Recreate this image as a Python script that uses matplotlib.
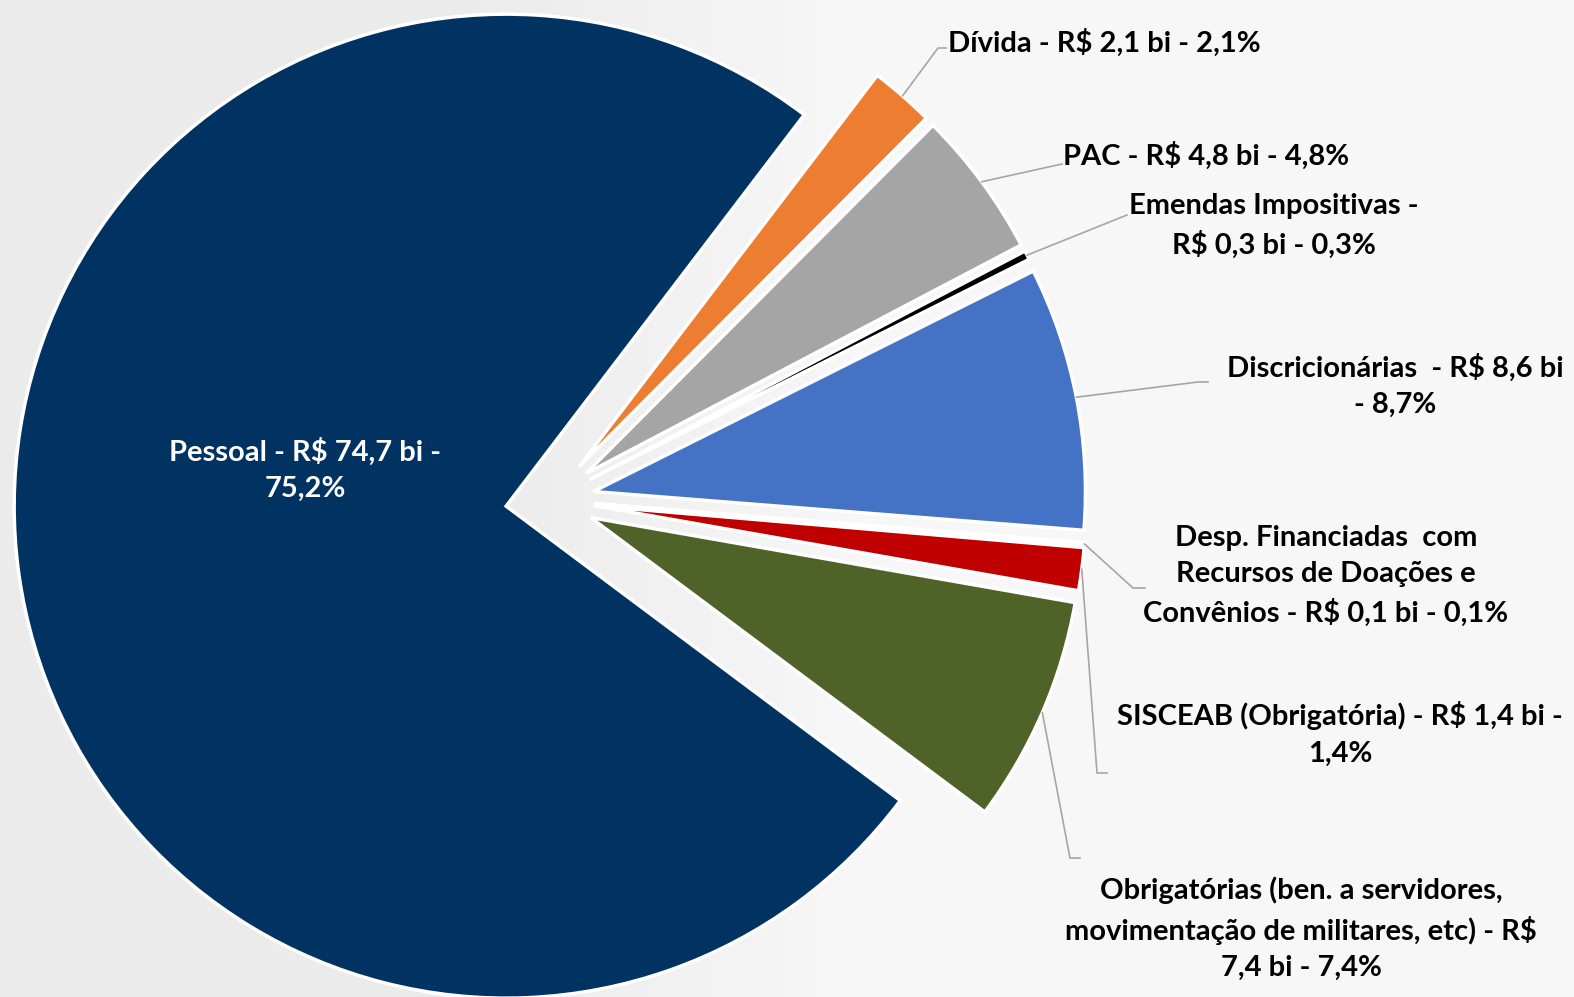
import matplotlib.pyplot as plt
import numpy as np
from matplotlib.colors import LinearSegmentedColormap

# dados (R$ bi), na ordem do gráfico (sentido horário a partir do topo)
categorias = ["Dívida", "PAC", "Emendas Impositivas", "Discricionárias",
              "Desp. Financiadas com Recursos de Doações e Convênios",
              "SISCEAB (Obrigatória)", "Obrigatórias", "Pessoal"]
valores = [2.1, 4.8, 0.3, 8.6, 0.1, 1.4, 7.4, 74.7]
rotulos = [
    "Dívida - R$ 2,1 bi - 2,1%",
    "PAC - R$ 4,8 bi - 4,8%",
    "Emendas Impositivas -\nR$ 0,3 bi - 0,3%",
    "Discricionárias  - R$ 8,6 bi\n- 8,7%",
    "Desp. Financiadas  com\nRecursos de Doações e\nConvênios - R$ 0,1 bi - 0,1%",
    "SISCEAB (Obrigatória) - R$ 1,4 bi -\n1,4%",
    "Obrigatórias (ben. a servidores,\nmovimentação de militares, etc) - R$\n7,4 bi - 7,4%",
    "Pessoal - R$ 74,7 bi -\n75,2%",
]
cores = ["#ED7D31", "#A5A5A5", "#000000", "#4472C4", "#7F7F7F",
         "#C00000", "#4F6228", "#003262"]

# layout em pixels (centro do gráfico e raio)
CX, CY, RPX = 550, 500, 492
W, H = 1574, 997


def px(x, y):
    return (x - CX) / RPX, (CY - y) / RPX


fig = plt.figure(figsize=(W / 100, H / 100), dpi=100)
fig.patch.set_facecolor("#ececec")
ax = fig.add_axes([0, 0, 1, 1])

xmin, ymax = px(0, 0)
xmax, ymin = px(W, H)

# fundo levemente mais claro à direita
xs = np.linspace(0, W, 400)
grad = np.clip((xs - 450) / 400, 0, 1)[None, :]
cmap = LinearSegmentedColormap.from_list("bg", ["#ebebeb", "#f7f7f7"])
ax.imshow(grad, extent=[xmin, xmax, ymin, ymax], aspect="auto", cmap=cmap,
          zorder=0, vmin=0, vmax=1)

wedges, _ = ax.pie(valores, colors=cores, startangle=52.7, counterclock=False,
                   explode=[0.09] * len(valores), radius=1,
                   wedgeprops=dict(edgecolor="white", linewidth=2.5))
for w in wedges:
    w.set_zorder(2)

ax.set_xlim(xmin, xmax)
ax.set_ylim(ymin, ymax)
ax.set_aspect("auto")
ax.axis("off")

fonte = dict(family=["Lato", "DejaVu Sans"], fontweight="bold", fontsize=21,
             linespacing=1.48)

# posição dos rótulos (px) e cotovelos das linhas guia (px)
pos_rotulos = [(948, 43, "left"), (1063, 156, "left"), (1274, 226, "center"),
               (1395, 386, "center"), (1326, 576, "center"),
               (1340, 734, "center"), (1301, 929, "center"), (305, 470, "center")]
guias = [
    [(938, 48), (946, 48)],
    [(1062, 164)],
    [(1127, 215)],
    [(1198, 382), (1208, 382)],
    [(1133, 588), (1145, 588)],
    [(1097, 773), (1107, 773)],
    [(1070, 858), (1080, 858)],
    None,
]

for w, txt, (tx, ty, ha), g in zip(wedges, rotulos, pos_rotulos, guias):
    x, y = px(tx, ty)
    cor = "white" if g is None else "black"
    ax.text(x, y, txt, ha=ha, va="center", color=cor, zorder=4, **fonte)
    if g is None:
        continue
    ang = np.deg2rad((w.theta1 + w.theta2) / 2)
    sx = w.center[0] + w.r * np.cos(ang)
    sy = w.center[1] + w.r * np.sin(ang)
    pts = [(sx, sy)] + [px(a, b) for a, b in g]
    ax.plot([p[0] for p in pts], [p[1] for p in pts], color="#a6a6a6",
            lw=1.2, zorder=3)

fig.savefig("out.png", dpi=100, facecolor=fig.get_facecolor())
